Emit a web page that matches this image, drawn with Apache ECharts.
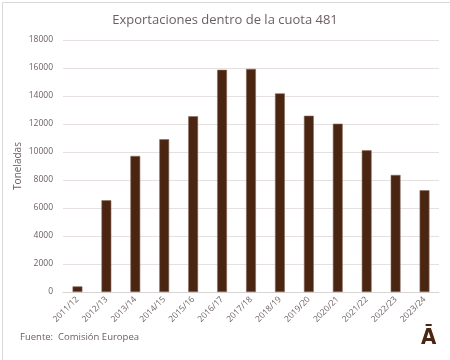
<!DOCTYPE html>
<html><head><meta charset="utf-8">
<script src="https://cdn.jsdelivr.net/npm/echarts@6/dist/echarts.min.js"></script>
<style>html,body{margin:0;padding:0;background:#fff}#c{width:450px;height:360px}</style>
</head><body><div id="c"></div>
<script>
const categories = ['2011/12','2012/13','2013/14','2014/15','2015/16','2016/17','2017/18','2018/19','2019/20','2020/21','2021/22','2022/23','2023/24'];
const values = [400, 6550, 9720, 10910, 12550, 15870, 15930, 14190, 12590, 12020, 10120, 8360, 7270];
const yTicks = [0, 2000, 4000, 6000, 8000, 10000, 12000, 14000, 16000, 18000];
const titleText = 'Exportaciones dentro de la cuota 481';
const yName = 'Toneladas';
const sourceText = 'Fuente:  Comisión Europea';
const logoText = 'Ā';

const chart = echarts.init(document.getElementById('c'), null, {renderer: 'canvas'});
const font = '"Open Sans", "Noto Sans", sans-serif';
chart.setOption({
  animation: false,
  textStyle: {fontFamily: font},
  title: {text: titleText, left: 'center', top: 9,
    textStyle: {fontFamily: font, fontSize: 13, fontWeight: 'normal', color: '#6b5f60'}},
  grid: {left: 63, right: 11, top: 40, bottom: 68},
  xAxis: {type: 'category', data: categories,
    axisLine: {lineStyle: {color: '#d9d4d4'}}, axisTick: {show: false},
    axisLabel: {rotate: 45, fontSize: 8.5, color: '#6b5f60', margin: 6, interval: 0}},
  yAxis: {type: 'value', min: yTicks[0], max: yTicks[yTicks.length-1], interval: 2000,
    axisLine: {show: false}, axisTick: {show: false},
    axisLabel: {fontSize: 8.5, color: '#6b5f60', margin: 10, formatter: v => String(v)},
    splitLine: {lineStyle: {color: '#e6e0e0'}}},
  series: [{type: 'bar', data: values, barWidth: '34%',
    itemStyle: {color: '#4a2512', borderColor: '#8a6a5c', borderWidth: 0.6}}],
  graphic: [
    {type: 'rect', left: 0, top: 0, shape: {x: 0.5, y: 0.5, width: 449, height: 359},
      style: {fill: 'none', stroke: '#d9d9d9', lineWidth: 1}},
    {type: 'text', x: 18, y: 166, rotation: Math.PI / 2,
      style: {text: yName, fontSize: 10, fill: '#6b5f60', fontFamily: font, align: 'center', verticalAlign: 'middle'}},
    {type: 'text', left: 20, top: 332, style: {text: sourceText, fontSize: 9.5, fill: '#6b5f60', fontFamily: font}},
    {type: 'text', left: 421, top: 327, style: {text: logoText, fontSize: 22, fontWeight: 'bold', fill: '#4a2512', fontFamily: '"DejaVu Sans Condensed", "DejaVu Sans", sans-serif'}}
  ]
});
</script></body></html>
